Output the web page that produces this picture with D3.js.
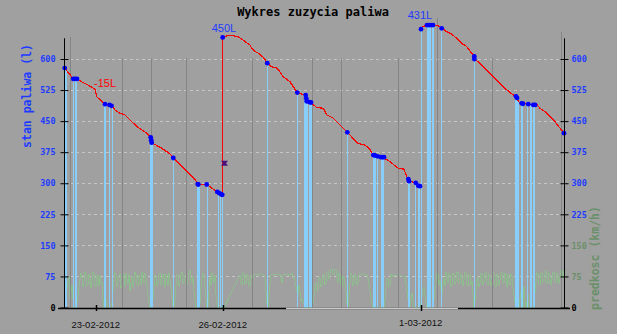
<!DOCTYPE html>
<html><head><meta charset="utf-8">
<script src="https://cdn.jsdelivr.net/npm/d3@7"></script>
<style>body{margin:0;background:#a0a0a0;} svg{display:block}</style>
</head><body><svg id="c" width="617" height="334"></svg>
<script>
// ---------------- data ----------------
const chartTitle = "Wykres zuzycia paliwa";
const yTitle = "stan paliwa (l)";
const y2Title = "predkosc (km/h)";
const yTicks = [0, 75, 150, 225, 300, 375, 450, 525, 600];
const xTickValues = [31.7, 158.7, 356.7];
const xTickLabels = ["23-02-2012", "26-02-2012", "1-03-2012"];

// fuel level [time index, litres]; null = gap
const fuel = [
  [0.7,578],[9.3,552],[13.3,552],[17.7,545],[24.3,537],[31,527],[32.7,509],[41,491],[47.7,487],[51,477],[56,469],[61,465],[66,453],[72.7,437],[81,424],[86.7,411],[87.7,398],[96,387],[106,371],[109.3,361],[121,334],[132.7,304],[134.3,297],[142.7,297],[152.7,280],[155.3,276],[158.3,272],
  [158.7,652],[162.7,656],[169.3,656],[174.3,654],[177.7,648],[181,642],[186,634],[187.7,626],[191,618],[194.3,614],[199.3,604],[203.3,590],[207.7,581],[212.7,578],[216,569],[219.3,557],[222.7,551],[226,545],[229.3,533],[233.3,519],[237.7,515],[241.7,513],[242.7,497],[246.7,495],[252.7,483],[259.3,481],[262.7,465],[269.3,457],[274.3,445],[279.3,433],[283.3,423],[287.7,412],[294.3,396],[301,392],[305.3,384],[309.3,368],[314.3,364],[318.7,363],[326,352],[334.3,336],[340,334],[342.7,316],[344.7,308],[349.3,302],[351.7,301],[355.3,293],
  null,
  [357,672],[357.7,677],[362.7,682],[370,682],[374.3,680],[377.7,674],[382.7,666],[387.7,660],[392.7,650],[397.7,638],[402.7,630],[410.3,606],[411,599],[416,590],[422.7,573],[429.3,557],[434.3,545],[441,529],[449.3,513],[452.7,508],[454.3,497],[457.7,493],[464.3,491],[469.3,489],[473.3,489],[476,481],[481,473],[486,461],[491,449],[496,433],[500.3,421]
];

// speed km/h, one sample per time unit starting at 0; null = no sample
const speedStep = 1;
const speed = [
  0,40,70,48,62,74,20,35,55,20, 0,0,0,10,30,52,68,84,75,50,
  60,86,80,52,55,80,74,48,64,85, 82,55,50,78,70,52,78,60,58,20,
  0,10,20,5,0,0,0,0,10,40, 65,84,78,50,60,76,82,48,55,80,
  70,52,84,66,58,80,40,62,76,50, 62,85,80,55,52,78,72,55,85,66,
  60,82,74,50,30,10,0,0,0,20, 50,78,76,52,60,80,84,55,58,80,
  72,50,80,68,55,84,70,50,30,5, 0,20,55,80,78,52,62,80,86,60,
  58,78,80,55,66,84,90,62,60,75, 40,15,0,0,0,0,10,45,68,82,
  74,50,20,0,0,40,72,55,84,70, 60,78,30,10,0,0,0,0,0,0,
  0,null,null,null,null,null,null,null,null,null, null,null,null,null,null,null,78,60,55,84,
  82,58,60,80,76,50,52,78,80,70, 78,80,80,79,79,80,80,81,81,79,
  78,70,40,10,0,30,60,78,80,80, 80,79,79,80,81,80,80,72,60,76,
  80,80,80,79,79,78,78,80,82,76, 70,62,50,40,30,55,40,15,20,10,
  8,0,0,0,0,0,0,0,0,10, 30,55,60,40,45,70,72,50,55,80,
  78,55,62,85,88,70,75,92,92,84, 80,92,90,70,60,82,75,55,50,76,
  70,55,40,10,0,30,60,82,78,52, 58,80,74,55,62,78,80,80,80,81,
  81,80,80,79,70,55,40,25,10,0, 0,0,0,0,0,0,0,0,0,0,
  0,20,45,70,70,50,55,80,75,78, 78,78,78,77,77,77,77,76,76,76,
  75,75,60,40,20,5,0,20,35,10, 0,0,0,0,0,0,0,10,25,45,
  50,30,10,0,0,0,0,0,0,10, 20,45,60,82,80,55,65,45,30,55,
  70,52,85,75,60,84,78,50,55,82, 80,58,62,85,86,60,58,80,74,52,
  66,86,84,58,52,80,78,55,64,30, 0,15,40,65,74,50,58,84,80,55,
  62,84,85,60,55,80,76,52,60,86, 82,55,50,80,74,55,66,84,86,62,
  58,82,72,50,80,62,55,80,76,50, 30,10,0,0,0,0,20,40,0,0,
  50,20,0,15,30,0,0,0,0,0, 10,35,60,84,80,55,55,82,84,60,
  62,80,88,60,58,84,78,55,65,86, 85,62,60,82,80,58,70,90,90,72,
  88
];

// stops: [start, end, fuel level]
const stopBars = [
  [0.5,2,578],[9.3,10,552],[11,13.3,552],[40.3,42,491],[45.3,46.7,489],[47.7,48.7,487],
  [86,88.7,400],[109.3,110,361],[132.7,135.3,297],[142.7,143.7,297],[153.7,155,279],[156,157,275],
  [158.3,159.7,652],[202.7,203.7,590],[233.3,234.7,519],[240.3,244.3,513],[245.3,248,495],
  [283.3,284.7,423],[309.3,312,368],[313.3,314.7,365],[316.7,320,363],[344.3,346,308],
  [351,352,301],[354.3,356,293],[356.5,357.5,672],[362.7,364.3,682],[365.3,367,682],
  [368,370.3,682],[377,377.7,674],[410,411.3,606],[451,455.3,510],[457,458.7,493],
  [462.7,463.3,491],[466,468,490],[469.3,471,489]
];
// measured points [time, litres]
const stopPoints = [
  [0.7,578],[9.3,552],[11,552],[13,552],[41,491],[45.5,489],[47.5,487],[86.7,411],[87.2,404],[87.7,398],
  [109.3,361],[133.7,298],[134.3,297],[142.7,297],[153.3,279],[155.3,276],[157.3,273],[158.3,272],[158.7,652],
  [203.3,590],[233.3,519],[241.7,513],[242.2,505],[242.7,498],[245.3,496],[247,495],[283.3,423],
  [309.3,368],[311,367],[313.7,365],[317,363],[318.5,363],[320,363],[344.3,310],[345,305],[351.7,301],
  [354.3,294],[356,293],[357,672],[363,682],[365,682],[367,682],[369,682],[377.7,674],[410.3,606],
  [410.3,600],[452,510],[453,506],[457.7,493],[459,492],[464.3,491],[469.3,489],[471,489],[500,421]
];
// grey event lines [time, top level]
const markers = [[6,653],[57.7,602],[86.7,602],[122,602],[187.7,602],[247.7,602],[276.5,602],[334.3,602],[372.7,700],[428.3,602],[496.5,665]];
const annotations = [
  {text:"-15L", t:30, v:532, color:"#ff0000", anchor:"start"},
  {text:"450L", t:160, v:665, color:"#1e3cff", anchor:"middle"},
  {text:"431L", t:356, v:697, color:"#1e3cff", anchor:"middle"}
];
const refuelMark = [[160.5, 348]];

// ---------------- drawing ----------------
const svg = d3.select("#c");
const x = d3.scaleLinear().domain([0, 500]).range([64, 564]);
const y = d3.scaleLinear().domain([0, 600]).range([307.5, 59]);
const y2 = d3.scaleLinear().domain([0, 600]).range([307.5, 59]);
const px = v => Math.round(v) + 0.5;
const BLUE = "#1e3cff", GREEN = "#6a906a";

svg.append("rect").attr("width", 617).attr("height", 334).attr("fill", "#a0a0a0");

// title
svg.append("text").attr("x", 313).attr("y", 16).attr("text-anchor", "middle")
  .attr("font-family", "DejaVu Sans Mono").attr("font-weight", "bold").attr("font-size", 12)
  .attr("fill", "#000").text(chartTitle);

// grid
svg.append("g").selectAll("line").data(yTicks.filter(d => d > 0)).join("line")
  .attr("x1", x(0)).attr("x2", x(497)).attr("y1", d => px(y(d))).attr("y2", d => px(y(d)))
  .attr("stroke", "#c6c6c6").attr("stroke-dasharray", "3,3");

// speed line
const speedPts = speed.map((v, i) => [i * speedStep, v]).filter(d => d[1] !== null);
svg.append("path").datum(speedPts)
  .attr("d", d3.line().x(d => x(d[0])).y(d => y2(d[1])))
  .attr("fill", "none").attr("stroke", "#8fbc8f").attr("stroke-width", 1)
  .attr("shape-rendering", "crispEdges");

// grey markers
svg.append("g").selectAll("line").data(markers).join("line")
  .attr("x1", d => px(x(d[0]))).attr("x2", d => px(x(d[0])))
  .attr("y1", d => y(d[1])).attr("y2", y(0))
  .attr("stroke", "#858585").attr("stroke-width", 1);

// stop bars
svg.append("g").selectAll("rect").data(stopBars).join("rect")
  .attr("x", d => Math.round(x(d[0])))
  .attr("width", d => Math.max(1, Math.round(x(d[1]) - x(d[0]))))
  .attr("y", d => y(d[2])).attr("height", d => y(0) - y(d[2]))
  .attr("fill", "#87cefa");

// fuel line
svg.append("path").datum(fuel)
  .attr("d", d3.line().defined(d => d !== null).x(d => x(d[0])).y(d => y(d[1])))
  .attr("fill", "none").attr("stroke", "#ff0000").attr("stroke-width", 1.2)
  .attr("shape-rendering", "crispEdges");

// points
svg.append("g").selectAll("circle").data(stopPoints).join("circle")
  .attr("cx", d => x(d[0])).attr("cy", d => y(d[1])).attr("r", 2.4).attr("fill", "#0000ff");

// refuel marker
svg.append("g").selectAll("path").data(refuelMark).join("path")
  .attr("transform", d => `translate(${x(d[0])},${y(d[1])})`)
  .attr("d", "M-3.5,-2.5L3.5,-2.5L1.5,0L3.5,2.5L-3.5,2.5L-1.5,0Z")
  .attr("fill", "#4b0f7a");

// annotations
svg.append("g").selectAll("text").data(annotations).join("text")
  .attr("x", d => x(d.t)).attr("y", d => y(d.v)).attr("text-anchor", d => d.anchor)
  .attr("font-family", "Liberation Sans, Arial, sans-serif").attr("font-size", 11)
  .attr("fill", d => d.color).text(d => d.text);

// left axis
const gl = svg.append("g").attr("transform", "translate(64.5,0)")
  .call(d3.axisLeft(y).tickValues(yTicks).tickSize(4).tickPadding(5));
gl.select(".domain").remove();
gl.append("line").attr("y1", y(650)).attr("y2", 308).attr("stroke", "#000");
gl.selectAll(".tick line").attr("x1", 4).attr("stroke", "#000");
gl.selectAll(".tick text").attr("font-family", "DejaVu Sans Mono").attr("font-size", 8.5)
  .attr("font-weight", "bold").attr("fill", d => d === 0 ? "#000" : BLUE);

// right axis
const gr = svg.append("g").attr("transform", "translate(564.5,0)")
  .call(d3.axisRight(y2).tickValues(yTicks).tickSize(4).tickPadding(3));
gr.select(".domain").remove();
gr.append("line").attr("y1", y2(650)).attr("y2", 308).attr("stroke", "#000");
gr.selectAll(".tick line").attr("x1", -4).attr("stroke", "#000");
gr.selectAll(".tick text").attr("font-family", "DejaVu Sans Mono").attr("font-size", 8.5)
  .attr("font-weight", "bold").attr("fill", d => d === 0 ? "#000" : (d <= 150 ? GREEN : BLUE));

// bottom axis
svg.append("line").attr("x1", 58).attr("x2", 570).attr("y1", 308.5).attr("y2", 308.5)
  .attr("stroke", "#000").attr("stroke-width", 1.6);
svg.append("line").attr("x1", 286).attr("x2", 458).attr("y1", 308.5).attr("y2", 308.5)
  .attr("stroke", "#c8c8c8").attr("stroke-width", 1.6);
const gx = svg.append("g");
gx.selectAll("line").data(xTickValues).join("line")
  .attr("x1", d => px(x(d))).attr("x2", d => px(x(d))).attr("y1", 305).attr("y2", 311)
  .attr("stroke", "#000").attr("stroke-width", 1.5);
gx.selectAll("text").data(xTickValues).join("text")
  .attr("x", d => x(d)).attr("y", (d, i) => i === 2 ? 326 : 328).attr("text-anchor", "middle")
  .attr("font-family", "Liberation Sans, Arial, sans-serif").attr("font-size", 9.5)
  .attr("fill", "#111").text((d, i) => xTickLabels[i]);

// axis titles
svg.append("text").attr("transform", "translate(31,96) rotate(-90)").attr("text-anchor", "middle")
  .attr("font-family", "DejaVu Sans Mono").attr("font-weight", "bold").attr("font-size", 11.5)
  .attr("fill", BLUE).text(yTitle);
svg.append("text").attr("transform", "translate(599,258) rotate(-90)").attr("text-anchor", "middle")
  .attr("font-family", "DejaVu Sans Mono").attr("font-weight", "bold").attr("font-size", 11.5)
  .attr("fill", GREEN).text(y2Title);
</script></body></html>
